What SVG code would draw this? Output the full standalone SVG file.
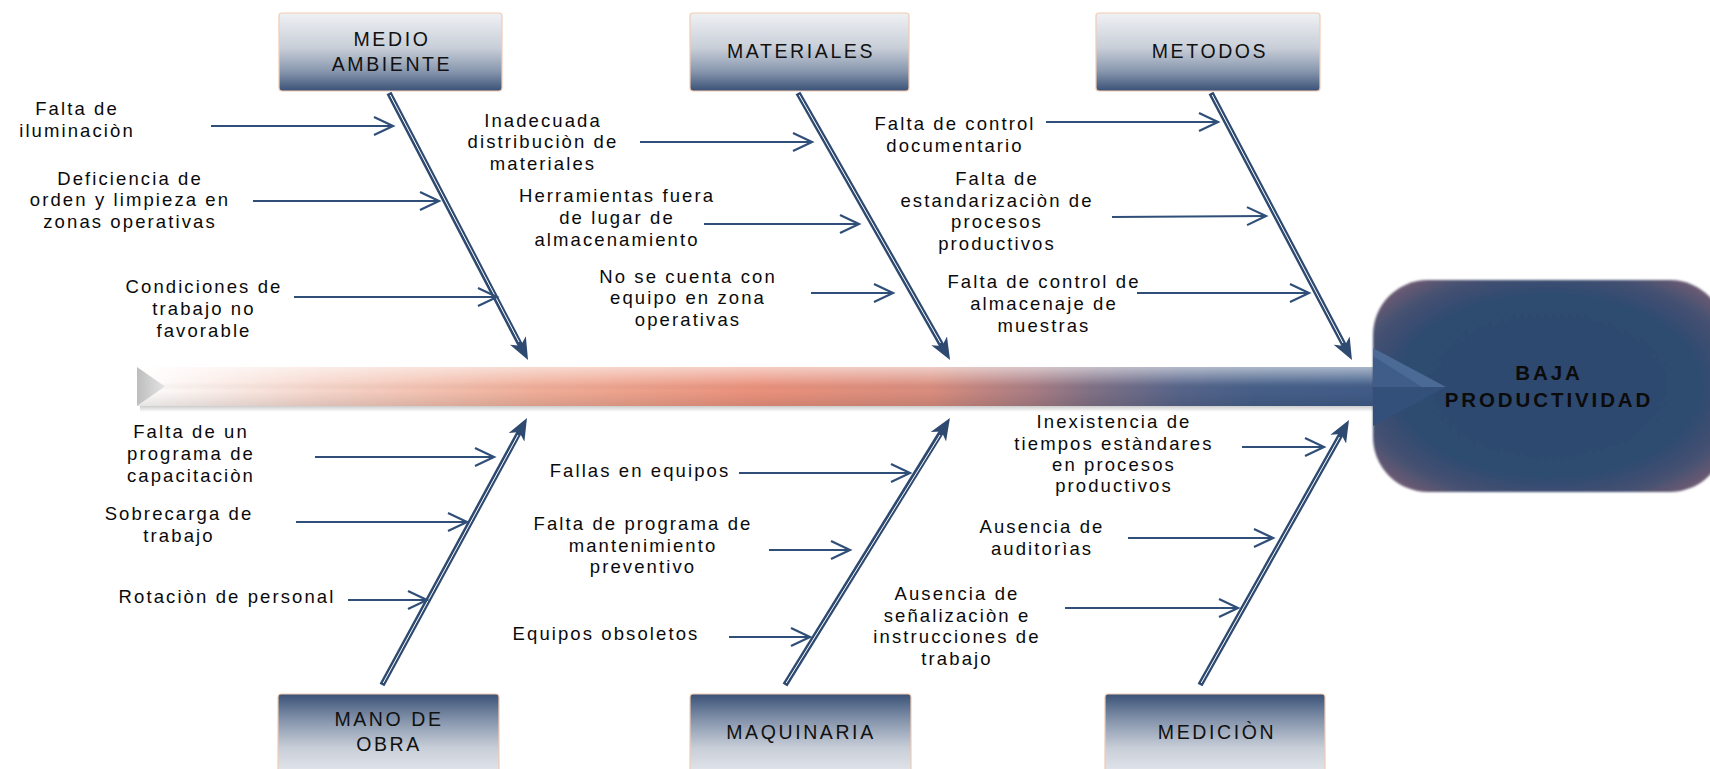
<svg xmlns="http://www.w3.org/2000/svg" width="1710" height="769" viewBox="0 0 1710 769">
<defs>
<style>
.lbl{font-family:"Liberation Sans",Arial,sans-serif;font-size:18.5px;letter-spacing:2.1px;fill:#0a0a0a;text-anchor:middle}
.ttl{font-family:"Liberation Sans",Arial,sans-serif;font-size:19.5px;letter-spacing:2.6px;fill:#111;text-anchor:middle}
.eff{font-family:"Liberation Sans",Arial,sans-serif;font-size:20.5px;font-weight:bold;letter-spacing:2.9px;fill:#0b0b0b;text-anchor:middle}
.br{fill:none;stroke:#2F4E78;stroke-width:2.2;marker-end:url(#chev)}
.dg{fill:none;stroke:#2E4A70;stroke-width:5.5;marker-end:url(#dh)}
.dw{fill:none;stroke:#ffffff;stroke-width:1}
.boxT{fill:url(#gTop);stroke:#F2CBB2;stroke-width:1.2}
.boxB{fill:url(#gBot);stroke:#F2CBB2;stroke-width:1.2}
</style>
<linearGradient id="gTop" x1="0" y1="0" x2="0" y2="1">
<stop offset="0" stop-color="#EFF1F4"/><stop offset="0.45" stop-color="#C8CED8"/><stop offset="0.75" stop-color="#8796AD"/><stop offset="1" stop-color="#3A5277"/>
</linearGradient>
<linearGradient id="gBot" x1="0" y1="0" x2="0" y2="1">
<stop offset="0" stop-color="#3A5277"/><stop offset="0.3" stop-color="#8796AD"/><stop offset="0.6" stop-color="#C8CED8"/><stop offset="1" stop-color="#EFF1F4"/>
</linearGradient>
<linearGradient id="gSpine" gradientUnits="userSpaceOnUse" x1="137" y1="0" x2="1380" y2="0">
<stop offset="0" stop-color="#FFFFFF"/><stop offset="0.15" stop-color="#F6D5CA"/><stop offset="0.32" stop-color="#F0AE99"/><stop offset="0.5" stop-color="#EA917C"/><stop offset="0.64" stop-color="#D98D7E"/><stop offset="0.72" stop-color="#A97D84"/><stop offset="0.77" stop-color="#7F7086"/><stop offset="0.84" stop-color="#56648A"/><stop offset="0.9" stop-color="#465F88"/><stop offset="1" stop-color="#3F5C88"/>
</linearGradient>
<linearGradient id="gHi" x1="0" y1="0" x2="0" y2="1">
<stop offset="0" stop-color="#ffffff" stop-opacity="0.55"/><stop offset="0.4" stop-color="#ffffff" stop-opacity="0.1"/><stop offset="0.6" stop-color="#000000" stop-opacity="0"/><stop offset="1" stop-color="#000000" stop-opacity="0.1"/>
</linearGradient>
<linearGradient id="gNotch" x1="0" y1="0" x2="1" y2="0">
<stop offset="0" stop-color="#BDBDBD"/><stop offset="1" stop-color="#E4E4E4"/>
</linearGradient>
<linearGradient id="gShadow" x1="0" y1="0" x2="0" y2="1">
<stop offset="0" stop-color="#9a9a9a" stop-opacity="0.5"/><stop offset="1" stop-color="#9a9a9a" stop-opacity="0"/>
</linearGradient>
<radialGradient id="gHead" cx="0.5" cy="0.5" r="0.62">
<stop offset="0" stop-color="#2D4A70"/><stop offset="0.7" stop-color="#2F4B70"/><stop offset="0.88" stop-color="#475172"/><stop offset="1" stop-color="#6A5B73"/>
</radialGradient>
<filter id="soft" x="-5%" y="-5%" width="110%" height="110%"><feGaussianBlur stdDeviation="1.2"/></filter>
<marker id="chev" markerUnits="userSpaceOnUse" viewBox="0 0 24 22" markerWidth="24" markerHeight="22" refX="21" refY="11" orient="auto">
<path d="M2,2 L21,11 L2,20" fill="none" stroke="#2F4E78" stroke-width="2.2"/>
</marker>
<marker id="dh" markerUnits="userSpaceOnUse" viewBox="0 0 22 18" markerWidth="22" markerHeight="18" refX="12" refY="9" orient="auto">
<path d="M0,0 L22,9 L0,18 L6,9 Z" fill="#2E4A70"/>
</marker>
</defs>

<rect width="1710" height="769" fill="#ffffff"/>

<g id="spine">
<rect x="140" y="406" width="1235" height="6" fill="url(#gShadow)"/>
<polygon points="137,367 1380,367 1380,406 137,406 165,386.5" fill="url(#gSpine)"/>
<polygon points="137,367 1380,367 1380,406 137,406 165,386.5" fill="url(#gHi)"/>
<polygon points="137,367 165,386.5 137,406" fill="url(#gNotch)"/>
</g>

<g id="effect">
<rect x="1373" y="280" width="352" height="212" rx="55" ry="55" fill="url(#gHead)" filter="url(#soft)"/>
<polygon points="1373,348 1446,387 1373,387" fill="#4B6A96"/>
<polygon points="1373,387 1446,387 1373,426" fill="#33507B"/>
<polygon points="1373,356 1422,387 1373,387" fill="#3F5D88"/>
<text class="eff" x="1549" y="380">BAJA</text>
<text class="eff" x="1549" y="407">PRODUCTIVIDAD</text>
</g>

<g id="connectors">
<path class="dg" d="M389,93 L523.4,351.1"/>
<path class="dw" d="M390.2,95 L519,342"/>
<path class="dg" d="M798,93 L945.1,351.3"/>
<path class="dw" d="M799.2,95 L940.5,343"/>
<path class="dg" d="M1211,93 L1347.3,351.2"/>
<path class="dw" d="M1212.2,95 L1343,343"/>
<path class="dg" d="M382,685 L522.2,426.8"/>
<path class="dw" d="M383.2,683 L518,435"/>
<path class="dg" d="M785,685 L944.7,426.5"/>
<path class="dw" d="M786.2,683 L940,435"/>
<path class="dg" d="M1200,685 L1344.1,428.7"/>
<path class="dw" d="M1201.2,683 L1339.5,437"/>

<path class="br" d="M211,126 L393,126"/>
<path class="br" d="M253,201 L439,201"/>
<path class="br" d="M294,297 L497,297"/>
<path class="br" d="M640,142 L812,142"/>
<path class="br" d="M704,224 L859,224"/>
<path class="br" d="M811,293 L893,293"/>
<path class="br" d="M1046,122 L1218,122"/>
<path class="br" d="M1112,217 L1266,216"/>
<path class="br" d="M1137,293 L1309,293"/>
<path class="br" d="M315,457 L494,457"/>
<path class="br" d="M296,522 L467,522"/>
<path class="br" d="M348,600 L427,600"/>
<path class="br" d="M739,473 L910,473"/>
<path class="br" d="M769,550 L850,550"/>
<path class="br" d="M729,637 L810,637"/>
<path class="br" d="M1242,447 L1324,447"/>
<path class="br" d="M1128,538 L1273,538"/>
<path class="br" d="M1065,608 L1238,608"/>
</g>

<g id="medio-ambiente">
<rect class="boxT" x="279" y="13" width="223" height="78" rx="3"/>
<text class="ttl" x="392" y="46">MEDIO</text>
<text class="ttl" x="392" y="71">AMBIENTE</text>
</g>
<g id="materiales">
<rect class="boxT" x="690" y="13" width="219" height="78" rx="3"/>
<text class="ttl" x="801" y="58">MATERIALES</text>
</g>
<g id="metodos">
<rect class="boxT" x="1096" y="13" width="224" height="78" rx="3"/>
<text class="ttl" x="1210" y="58">METODOS</text>
</g>
<g id="mano-de-obra">
<rect class="boxB" x="278" y="694" width="221" height="90" rx="3"/>
<text class="ttl" x="389" y="726">MANO DE</text>
<text class="ttl" x="389" y="751">OBRA</text>
</g>
<g id="maquinaria">
<rect class="boxB" x="690" y="694" width="221" height="90" rx="3"/>
<text class="ttl" x="801" y="739">MAQUINARIA</text>
</g>
<g id="medicion">
<rect class="boxB" x="1105" y="694" width="220" height="90" rx="3"/>
<text class="ttl" x="1217" y="739">MEDICIÒN</text>
</g>

<g id="c-iluminacion"><text class="lbl" x="77" y="115">Falta de</text><text class="lbl" x="77" y="137">iluminaciòn</text></g>
<g id="c-orden"><text class="lbl" x="130" y="185">Deficiencia de</text><text class="lbl" x="130" y="206">orden y limpieza en</text><text class="lbl" x="130" y="228">zonas operativas</text></g>
<g id="c-condiciones"><text class="lbl" x="204" y="293">Condiciones de</text><text class="lbl" x="204" y="315">trabajo no</text><text class="lbl" x="204" y="337">favorable</text></g>
<g id="c-distribucion"><text class="lbl" x="543" y="127">Inadecuada</text><text class="lbl" x="543" y="148">distribuciòn de</text><text class="lbl" x="543" y="170">materiales</text></g>
<g id="c-herramientas"><text class="lbl" x="617" y="202">Herramientas fuera</text><text class="lbl" x="617" y="224">de lugar de</text><text class="lbl" x="617" y="246">almacenamiento</text></g>
<g id="c-equipo"><text class="lbl" x="688" y="283">No se cuenta con</text><text class="lbl" x="688" y="304">equipo en zona</text><text class="lbl" x="688" y="326">operativas</text></g>
<g id="c-documentario"><text class="lbl" x="955" y="130">Falta de control</text><text class="lbl" x="955" y="152">documentario</text></g>
<g id="c-estandarizacion"><text class="lbl" x="997" y="185">Falta de</text><text class="lbl" x="997" y="207">estandarizaciòn de</text><text class="lbl" x="997" y="228">procesos</text><text class="lbl" x="997" y="250">productivos</text></g>
<g id="c-almacenaje"><text class="lbl" x="1044" y="288">Falta de control de</text><text class="lbl" x="1044" y="310">almacenaje de</text><text class="lbl" x="1044" y="332">muestras</text></g>
<g id="c-capacitacion"><text class="lbl" x="191" y="438">Falta de un</text><text class="lbl" x="191" y="460">programa de</text><text class="lbl" x="191" y="482">capacitaciòn</text></g>
<g id="c-sobrecarga"><text class="lbl" x="179" y="520">Sobrecarga de</text><text class="lbl" x="179" y="542">trabajo</text></g>
<g id="c-rotacion"><text class="lbl" x="227" y="603">Rotaciòn de personal</text></g>
<g id="c-fallas"><text class="lbl" x="640" y="477">Fallas en equipos</text></g>
<g id="c-mantenimiento"><text class="lbl" x="643" y="530">Falta de programa de</text><text class="lbl" x="643" y="552">mantenimiento</text><text class="lbl" x="643" y="573">preventivo</text></g>
<g id="c-obsoletos"><text class="lbl" x="606" y="640">Equipos obsoletos</text></g>
<g id="c-tiempos"><text class="lbl" x="1114" y="428">Inexistencia de</text><text class="lbl" x="1114" y="450">tiempos estàndares</text><text class="lbl" x="1114" y="471">en procesos</text><text class="lbl" x="1114" y="492">productivos</text></g>
<g id="c-auditorias"><text class="lbl" x="1042" y="533">Ausencia de</text><text class="lbl" x="1042" y="555">auditorìas</text></g>
<g id="c-senalizacion"><text class="lbl" x="957" y="600">Ausencia de</text><text class="lbl" x="957" y="622">señalizaciòn e</text><text class="lbl" x="957" y="643">instrucciones de</text><text class="lbl" x="957" y="665">trabajo</text></g>
</svg>
